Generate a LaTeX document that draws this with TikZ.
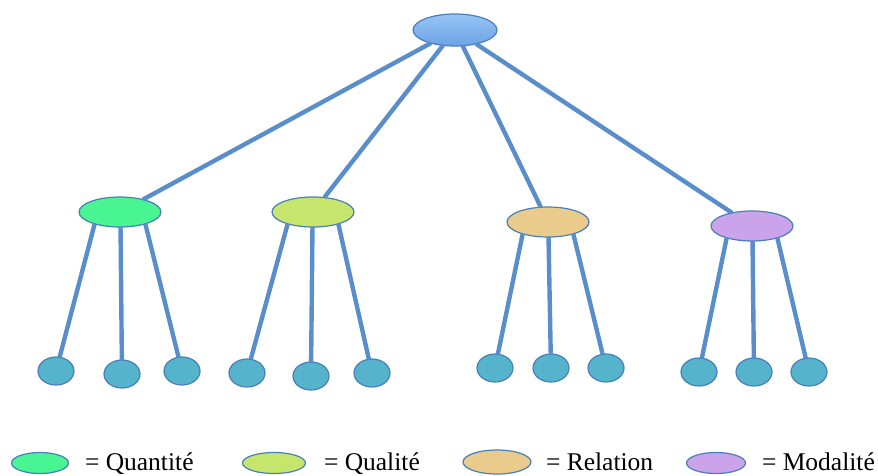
\documentclass[tikz,border=0pt]{standalone}
\usepackage{fontspec}
\setmainfont{Liberation Serif}
\usepackage{xcolor}
\usepackage{tikz}
\usetikzlibrary{shapes.geometric}

\definecolor{linkblue}{RGB}{90,142,203}
\definecolor{rimblue}{RGB}{74,126,187}
\definecolor{leafblue}{RGB}{85,180,203}
\definecolor{skytop}{RGB}{150,196,245}
\definecolor{skybottom}{RGB}{108,163,230}
\definecolor{quantgreen}{RGB}{72,245,146}
\definecolor{qualgreen}{RGB}{198,229,109}
\definecolor{relsand}{RGB}{233,204,139}
\definecolor{modlilac}{RGB}{203,163,234}

\begin{document}
\begin{tikzpicture}[x=1pt,y=-1pt,semithick]
			\tikzstyle{every node}=[ellipse,draw=rimblue,line width=1.2pt,inner sep=0pt,outer sep=0pt]
			\tikzstyle{cat}=[minimum width=82pt,minimum height=30pt]
			\tikzstyle{leaf}=[fill=leafblue,minimum width=36pt,minimum height=28pt]
			\tikzstyle{key}=[minimum height=21pt]
			\tikzstyle{keytext}=[rectangle,draw=none,anchor=base west,font=\fontsize{25.5}{28}\selectfont]
			\tikzstyle{link}=[draw=linkblue,line width=4.4pt]
			
			\useasboundingbox (0,0) rectangle (878,475);
			
			\node[top color=skytop,bottom color=skybottom,minimum width=84pt,minimum height=32pt] (top) at (455,30) {};
			
			\node[cat,fill=quantgreen] (quant) at (120,212) {};
			\node[cat,fill=qualgreen] (qual) at (313,212) {};
			\node[cat,fill=relsand] (rel) at (548,222) {};
			\node[cat,fill=modlilac] (mod) at (752,226) {};
			
			\node[leaf] (quant1) at (56,371) {};
			\node[leaf] (quant2) at (122,374) {};
			\node[leaf] (quant3) at (182,371) {};
			\node[leaf] (qual1) at (247,373) {};
			\node[leaf] (qual2) at (311,376) {};
			\node[leaf] (qual3) at (372,373) {};
			\node[leaf] (rel1) at (495,368) {};
			\node[leaf] (rel2) at (551,368) {};
			\node[leaf] (rel3) at (606,368) {};
			\node[leaf] (mod1) at (699,372) {};
			\node[leaf] (mod2) at (754,372) {};
			\node[leaf] (mod3) at (809,372) {};
			
			\path[link] (top) edge (quant)
			(top) edge (qual)
			(top) edge (rel)
			(top) edge (mod)
			(quant.205) edge (quant1)
			(quant.272) edge (quant2)
			(quant.335) edge (quant3)
			(qual.205) edge (qual1)
			(qual.268) edge (qual2)
			(qual.335) edge (qual3)
			(rel.205) edge (rel1)
			(rel.272) edge (rel2)
			(rel.335) edge (rel3)
			(mod.205) edge (mod1)
			(mod.272) edge (mod2)
			(mod.335) edge (mod3);
			
			% legend
			\node[key,fill=quantgreen,minimum width=57pt] (keyquant) at (40,463) {};
			\node[keytext] (txtquant) at (85,470) {= Quantité};
			\node[key,fill=qualgreen,minimum width=63pt] (keyqual) at (274,463) {};
			\node[keytext] (txtqual) at (324,470) {= Qualité};
			\node[key,fill=relsand,minimum width=68pt,minimum height=24pt] (keyrel) at (497,462) {};
			\node[keytext] (txtrel) at (546,470) {= Relation};
			\node[key,fill=modlilac,minimum width=59pt] (keymod) at (716,463) {};
			\node[keytext] (txtmod) at (762,470) {= Modalité};
		\end{tikzpicture}
\end{document}
